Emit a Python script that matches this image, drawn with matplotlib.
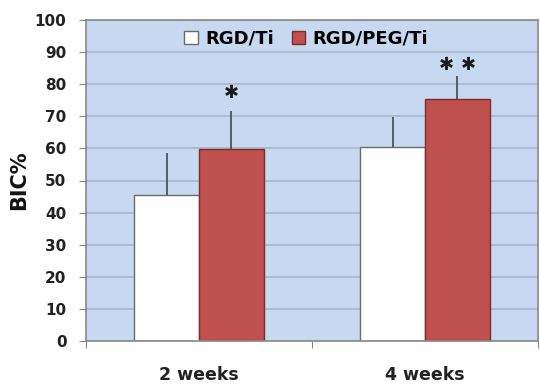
import matplotlib
matplotlib.use("Agg")
import matplotlib.pyplot as plt
import numpy as np

categories = ["2 weeks", "4 weeks"]
series_names = ["RGD/Ti", "RGD/PEG/Ti"]
rgd_ti = [45.5, 60.5]
rgd_ti_err = [13.1, 9.2]
rgd_peg_ti = [59.8, 75.5]
rgd_peg_ti_err = [11.9, 7.0]
significance_count = [1, 2]
significance_y = [77.3, 86.0]
yticks = list(range(0, 101, 10))

plt.rcParams['font.family'] = ['DejaVu Sans']
fig = plt.figure(figsize=(5.4, 3.85), dpi=100)
ax = fig.add_axes([86/540, 44/385, 452/540, 321/385])
ax.set_facecolor('#C6D9F1')

x = np.arange(len(categories))
w = 0.287
ax.set_axisbelow(True)
ax.yaxis.grid(True, color='#A9B8CB', linewidth=1.2)

ax.bar(x - w/2, rgd_ti, w, color='white', edgecolor='#6b6b6b', linewidth=1,
       label=series_names[0], zorder=2)
ax.bar(x + w/2, rgd_peg_ti, w, color='#C0504D', edgecolor='#7a2e2c', linewidth=1,
       label=series_names[1], zorder=2)
ax.errorbar(x - w/2, rgd_ti, yerr=[np.zeros(len(x)), rgd_ti_err], fmt='none',
            ecolor='#4a5560', elinewidth=1.3, capsize=0, zorder=3)
ax.errorbar(x + w/2, rgd_peg_ti, yerr=[np.zeros(len(x)), rgd_peg_ti_err], fmt='none',
            ecolor='#4a5560', elinewidth=1.3, capsize=0, zorder=3)

for i, n in enumerate(significance_count):
    offs = (np.arange(n) - (n - 1) / 2) * 16
    for o in offs:
        ax.annotate('\u2731', xy=(x[i] + w/2, significance_y[i]), xytext=(o, 0),
                    textcoords='offset points', ha='center', va='center',
                    fontsize=13, color='#1a1a1a')

ax.set_xlim(-0.5, 1.5)
ax.set_ylim(0, 100)
ax.set_yticks(yticks)
ax.set_yticklabels([str(t) for t in yticks], fontsize=11, fontweight='bold', color='#222222')
ax.set_xticks([-0.5, 0.5, 1.5])
ax.set_xticklabels([])
ax.tick_params(axis='x', length=5, color='#888888', direction='out')
ax.tick_params(axis='y', length=5, color='#888888', direction='out', pad=9)
for i, c in enumerate(categories):
    ax.text(x[i], -10.5, c, ha='center', va='center', fontsize=12.5,
            fontweight='bold', color='#222222')

for sp in ax.spines.values():
    sp.set_color('#888888')
    sp.set_linewidth(1.2)

ax.set_ylabel('BIC%', fontsize=15, fontweight='bold', labelpad=4, color='#111111')

leg = ax.legend(loc='upper center', bbox_to_anchor=(0.487, 1.01), ncol=2, frameon=False,
                prop={'weight': 'bold', 'size': 13}, handlelength=0.75, handleheight=0.75,
                handletextpad=0.4, columnspacing=1.0, borderaxespad=0.3)

fig.savefig('out.png', dpi=100)
